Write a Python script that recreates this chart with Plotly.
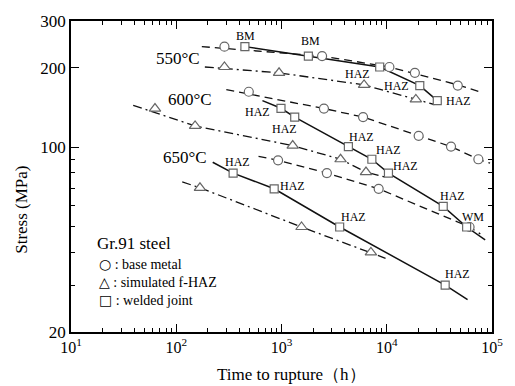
import math
import plotly.graph_objects as go

# ---------------- data (time to rupture h, stress MPa) ----------------
# 550 C
t550_bm = [287, 2430, 10600, 18500, 47300]
s550_bm = [240, 221, 201, 191, 171]
fit550_bm_t = [175, 2430, 10600, 47300, 80700]
fit550_bm_s = [240, 221, 201, 172, 161]

t550_fh = [287, 948, 6090, 18900]
s550_fh = [201, 191, 172, 151.5]
fit550_fh_t = [187, 948, 6090, 18900, 28300]
fit550_fh_s = [201, 191, 172, 151.5, 145]

t550_wj = [449, 1800, 8570, 20600, 30200]
s550_wj = [240, 221, 201, 171, 150]

# 600 C
t600_bm = [489, 2530, 5960, 20100, 40800, 74200]
s600_bm = [162, 140, 130, 110.4, 100.5, 90]
fit600_bm_t = [299, 2530, 5960, 20100, 40800, 74200, 95800]
fit600_bm_s = [165, 140, 130, 110.4, 100.5, 90, 87]

t600_fh = [62.8, 151, 1278, 3640, 6350]
s600_fh = [140, 120.3, 101.4, 90, 80.5]
fit600_fh_t = [39, 151, 1278, 3640, 6350, 9530]
fit600_fh_s = [144, 120.3, 101.4, 90, 80.5, 77.2]

t600_wj = [989, 1335, 4320, 7220, 10380, 34400, 57400]
s600_wj = [140.3, 129.9, 100.5, 90, 79.8, 59.7, 49.9]
fit600_wj_t = [659, 989, 1335, 4320, 7220, 10380, 34400, 57400, 86100]
fit600_wj_s = [150, 140.3, 129.9, 100.5, 90, 79.8, 59.7, 49.9, 44.6]

# 650 C
t650_bm = [928, 2700, 8380, 61200]
s650_bm = [89.2, 79.8, 69.6, 49.9]
fit650_bm_t = [605, 928, 2700, 8380, 61200, 77400]
fit650_bm_s = [92.3, 89.2, 79.8, 69.6, 49.9, 47]

t650_fh = [168, 1550, 7070]
s650_fh = [70.2, 49.9, 40.0]
fit650_fh_t = [114, 168, 1550, 7070, 9740]
fit650_fh_s = [73.9, 70.2, 49.9, 40.0, 38]

t650_wj = [347, 852, 3570, 35900]
s650_wj = [79.8, 69.6, 49.9, 30.1]
fit650_wj_t = [222, 347, 852, 3570, 35900, 58600]
fit650_wj_s = [87.7, 79.8, 69.6, 49.9, 30.1, 26.5]

# text labels on the curves: (text, time, stress)
temp_labels = [("550°C", 103, 217), ("600°C", 136, 151.5), ("650°C", 122, 91.5)]
point_labels = [
    ("BM", 458, 264), ("BM", 1878, 253),
    ("HAZ", 5240, 189), ("HAZ", 12300, 171), ("HAZ", 48400, 150),
    ("HAZ", 592, 135.6), ("HAZ", 1078, 117.3), ("HAZ", 5706, 109.5),
    ("HAZ", 10380, 97.2), ("HAZ", 14930, 84.8), ("HAZ", 42540, 65.6),
    ("WM", 66630, 54.3),
    ("HAZ", 378, 87.7), ("HAZ", 1278, 71.4), ("HAZ", 4810, 54.3),
    ("HAZ", 47330, 33.1),
]

x_tickvals = [10, 100, 1000, 10000, 100000]
x_ticktext = ["10<sup>1</sup>", "10<sup>2</sup>", "10<sup>3</sup>", "10<sup>4</sup>", "10<sup>5</sup>"]
y_tickvals = [20, 100, 200, 300]
y_ticktext = ["20", "100", "200", "300"]

# ---------------- figure ----------------
FONT = "Liberation Serif, Times New Roman, serif"
LINE_C = "#111111"
MARK_C = "#666666"

fig = go.Figure()

def line(t, s, dash, width=1.3):
    fig.add_trace(go.Scatter(x=t, y=s, mode="lines", showlegend=False,
                             line=dict(color=LINE_C, width=width, dash=dash),
                             hoverinfo="skip"))

def marks(t, s, symbol, size):
    fig.add_trace(go.Scatter(x=t, y=s, mode="markers", showlegend=False,
                             marker=dict(symbol=symbol, size=size, color="white",
                                         line=dict(color=MARK_C, width=1.2))))

DASH = "8px,5px"
DASHDOT = "9px,4px,2px,4px"

line(fit550_bm_t, fit550_bm_s, DASH)
line(fit550_fh_t, fit550_fh_s, DASHDOT)
line(t550_wj, s550_wj, "solid", 1.5)
line(fit600_bm_t, fit600_bm_s, DASH)
line(fit600_fh_t, fit600_fh_s, DASHDOT)
line(fit600_wj_t, fit600_wj_s, "solid", 1.5)
line(fit650_bm_t, fit650_bm_s, DASH)
line(fit650_fh_t, fit650_fh_s, DASHDOT)
line(fit650_wj_t, fit650_wj_s, "solid", 1.5)

for t, s in [(t550_bm, s550_bm), (t600_bm, s600_bm), (t650_bm, s650_bm)]:
    marks(t, s, "circle", 9)
for t, s in [(t550_fh, s550_fh), (t600_fh, s600_fh), (t650_fh, s650_fh)]:
    marks(t, s, "triangle-up", 10)
for t, s in [(t550_wj, s550_wj), (t600_wj, s600_wj), (t650_wj, s650_wj)]:
    marks(t, s, "square", 8)

for txt, t, s in temp_labels:
    fig.add_annotation(x=math.log10(t), y=math.log10(s), text=txt, showarrow=False,
                       font=dict(family=FONT, size=17, color="black"))
for txt, t, s in point_labels:
    fig.add_annotation(x=math.log10(t), y=math.log10(s), text=txt, showarrow=False,
                       font=dict(family=FONT, size=12, color="black"))

# legend block
fig.add_annotation(xref="paper", yref="paper", x=0.058, y=0.284, xanchor="left",
                   yanchor="middle", text="Gr.91 steel", showarrow=False,
                   font=dict(family=FONT, size=17, color="black"))
SYM = '<span style="font-family:DejaVu Sans"><b>{}</b></span>'
for sym, txt, yy in [("○", " : base metal", 0.2177), ("△", " : simulated f-HAZ", 0.1609),
                     ("□", " : welded joint", 0.1041)]:
    fig.add_annotation(xref="paper", yref="paper", x=0.062, y=yy, xanchor="left",
                       yanchor="middle", text=SYM.format(sym) + txt, showarrow=False,
                       font=dict(family=FONT, size=14, color="black"))

# axis titles
fig.add_annotation(xref="paper", yref="paper", x=-0.118, y=0.394, text="Stress (MPa)",
                   textangle=-90, xanchor="center", yanchor="middle", showarrow=False,
                   font=dict(family=FONT, size=17, color="black"))
fig.add_annotation(xref="paper", yref="paper", x=0.524, y=-0.136,
                   text="Time to rupture（h）", xanchor="center", yanchor="middle",
                   showarrow=False, font=dict(family=FONT, size=17, color="black"))

x_minor = [m * 10 ** d for d in range(1, 5) for m in range(2, 10)]
y_minor = [30, 40, 50, 60, 70, 80, 90]

fig.update_xaxes(type="log", range=[1, 5], tickmode="array", tickvals=x_tickvals,
                 ticktext=x_ticktext, ticks="inside", ticklen=8, tickwidth=1,
                 tickcolor="black", showline=True, linecolor="black", linewidth=1.5,
                 mirror="ticks", showgrid=False, zeroline=False,
                 tickfont=dict(family=FONT, size=16, color="black"),
                 minor=dict(tickvals=x_minor, ticks="inside", ticklen=4,
                            tickcolor="black", showgrid=False))
fig.update_yaxes(type="log", range=[math.log10(20), math.log10(300)], tickmode="array",
                 tickvals=y_tickvals, ticktext=y_ticktext, ticks="inside", ticklen=8,
                 tickwidth=1, tickcolor="black", showline=True, linecolor="black",
                 linewidth=1.5, mirror="ticks", showgrid=False, zeroline=False,
                 tickfont=dict(family=FONT, size=17, color="black"),
                 minor=dict(tickvals=y_minor, ticks="inside", ticklen=4,
                            tickcolor="black", showgrid=False))

fig.update_layout(width=515, height=386, margin=dict(l=71, r=13, t=15, b=54),
                  plot_bgcolor="white", paper_bgcolor="white", showlegend=False,
                  font=dict(family=FONT, color="black"))

fig.write_html("out.html", config={"displayModeBar": False},
               post_script="document.body.style.margin='0px';document.body.style.overflow='hidden';")
